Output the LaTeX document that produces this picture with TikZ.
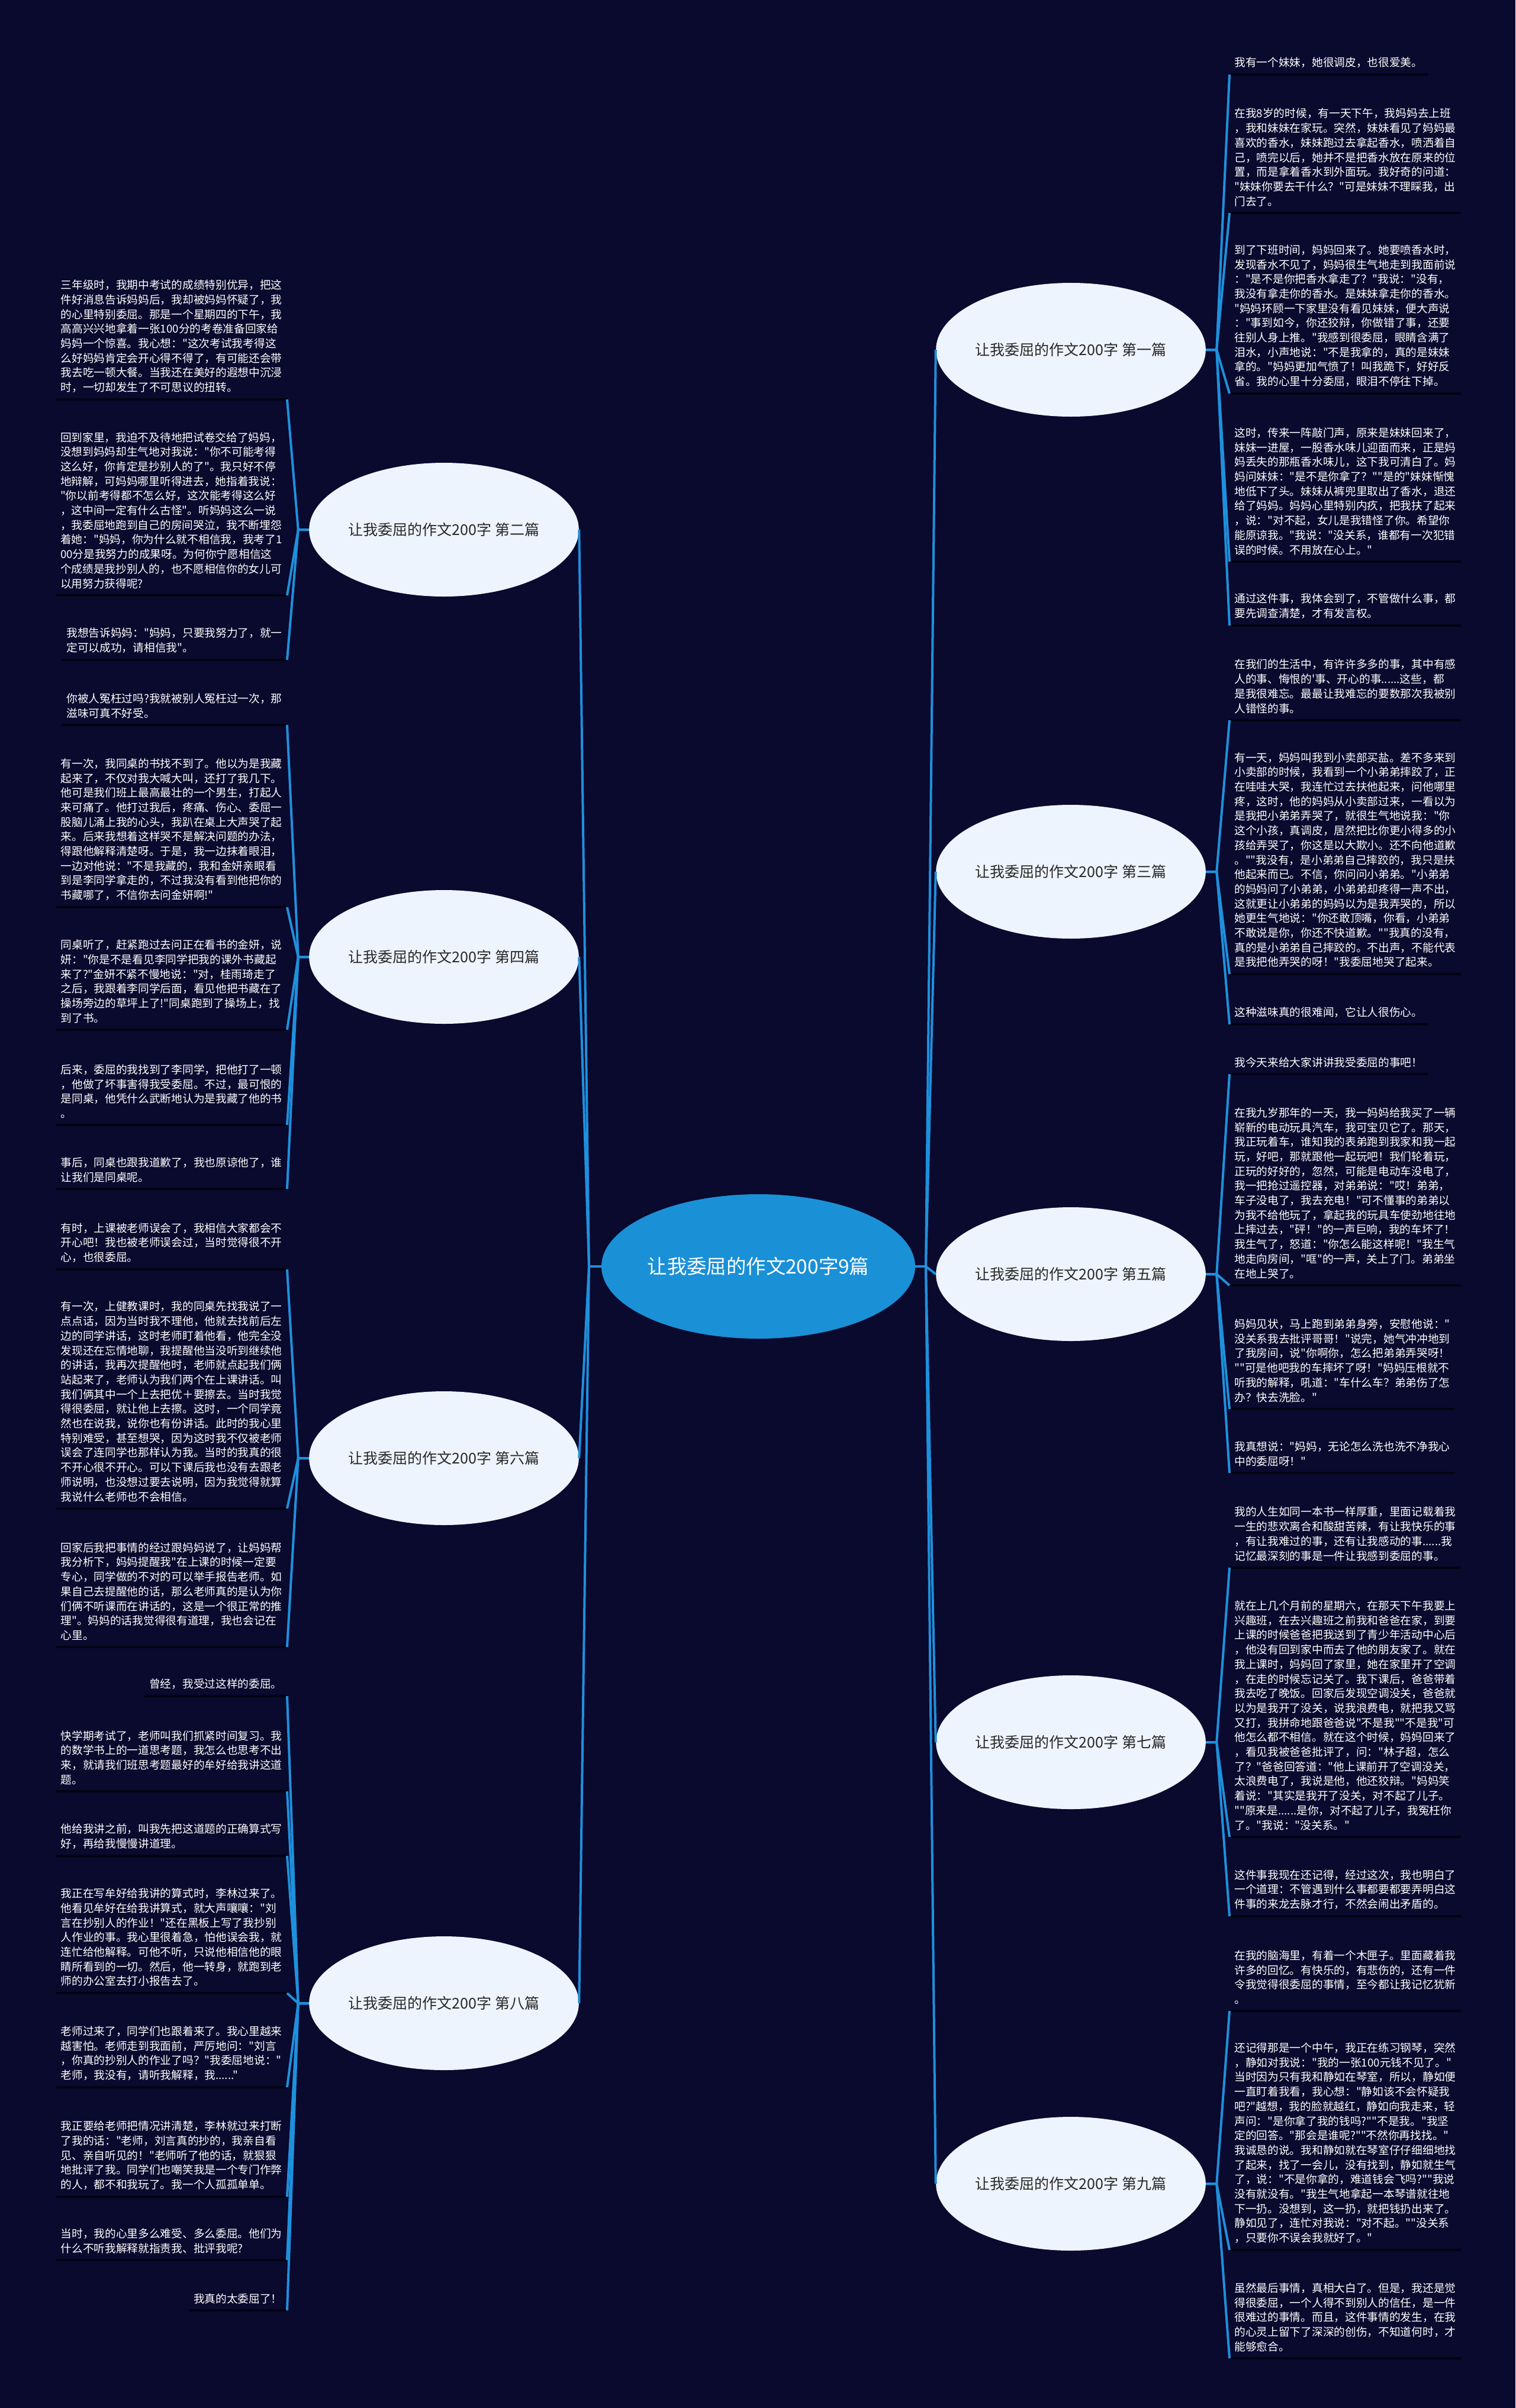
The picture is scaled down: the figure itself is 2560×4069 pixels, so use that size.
\documentclass[tikz,border=0pt]{standalone}
\usepackage{fontspec}
\newfontfamily\zhfont{Noto Sans CJK SC}
\usepackage{tikz}
\usetikzlibrary{positioning, calc, shapes.geometric}
\usepackage{xcolor}
\definecolor{bgnavy}{RGB}{10,9,46}
\definecolor{rootblue}{RGB}{26,144,214}
\definecolor{topicwhite}{RGB}{238,244,253}
\definecolor{topicgray}{RGB}{40,40,40}
\definecolor{linkblue}{RGB}{30,144,220}
\definecolor{ruledark}{RGB}{3,3,18}

\begin{document}
\begin{tikzpicture}[
  x=0.5pt, y=-0.5pt,
  root/.style={
    ellipse, fill=rootblue, minimum width=264pt, minimum height=122pt,
    inner sep=0pt, text=white, font=\zhfont\fontsize{16.7pt}{20pt}\selectfont
  },
  topic/.style={
    ellipse, fill=topicwhite, minimum width=227pt, minimum height=113pt,
    inner sep=0pt, text=topicgray, font=\zhfont\fontsize{12.5pt}{15pt}\selectfont
  },
  leaf/.style={
    align=left, text=white, inner xsep=4pt, inner ysep=5.5pt,
    font=\zhfont\fontsize{9.35pt}{12.35pt}\selectfont
  },
  rleaf/.style={leaf, anchor=south west},
  lleaf/.style={leaf, anchor=south east},
  link/.style={draw=linkblue, line width=2pt},
  rule/.style={draw=ruledark, line width=2pt}
]
  \useasboundingbox (0,0) rectangle (2560,4069);
  \fill[bgnavy] (0,0) rectangle (2560,4069);

  % root and topics
  \node[root]  (root) at (1281,2140) {让我委屈的作文200字9篇};
  \node[topic] (t1) at (1809,591)  {让我委屈的作文200字 第一篇};
  \node[topic] (t2) at (750,895)   {让我委屈的作文200字 第二篇};
  \node[topic] (t3) at (1809,1473) {让我委屈的作文200字 第三篇};
  \node[topic] (t4) at (750,1617)  {让我委屈的作文200字 第四篇};
  \node[topic] (t5) at (1809,2153) {让我委屈的作文200字 第五篇};
  \node[topic] (t6) at (750,2464)  {让我委屈的作文200字 第六篇};
  \node[topic] (t7) at (1809,2944) {让我委屈的作文200字 第七篇};
  \node[topic] (t8) at (750,3385)  {让我委屈的作文200字 第八篇};
  \node[topic] (t9) at (1809,3690) {让我委屈的作文200字 第九篇};

  % right leaves
  \node[rleaf] (r1a) at (2077,126) {我有一个妹妹，她很调皮，也很爱美。};
  \node[rleaf] (r1b) at (2077,360) {在我8岁的时候，有一天下午，我妈妈去上班\\，我和妹妹在家玩。突然，妹妹看见了妈妈最\\喜欢的香水，妹妹跑过去拿起香水，喷洒着自\\己，喷完以后，她并不是把香水放在原来的位\\置，而是拿着香水到外面玩。我好奇的问道：\\"妹妹你要去干什么？"可是妹妹不理睬我，出\\门去了。};
  \node[rleaf] (r1c) at (2077,665) {到了下班时间，妈妈回来了。她要喷香水时，\\发现香水不见了，妈妈很生气地走到我面前说\\："是不是你把香水拿走了？"我说："没有，\\我没有拿走你的香水。是妹妹拿走你的香水。\\"妈妈环顾一下家里没有看见妹妹，便大声说\\："事到如今，你还狡辩，你做错了事，还要\\往别人身上推。"我感到很委屈，眼睛含满了\\泪水，小声地说："不是我拿的，真的是妹妹\\拿的。"妈妈更加气愤了！叫我跪下，好好反\\省。我的心里十分委屈，眼泪不停往下掉。};
  \node[rleaf] (r1d) at (2077,949) {这时，传来一阵敲门声，原来是妹妹回来了，\\妹妹一进屋，一股香水味儿迎面而来，正是妈\\妈丢失的那瓶香水味儿，这下我可清白了。妈\\妈问妹妹："是不是你拿了？""是的"妹妹惭愧\\地低下了头。妹妹从裤兜里取出了香水，退还\\给了妈妈。妈妈心里特别内疚，把我扶了起来\\，说："对不起，女儿是我错怪了你。希望你\\能原谅我。"我说："没关系，谁都有一次犯错\\误的时候。不用放在心上。"};
  \node[rleaf] (r1e) at (2077,1057) {通过这件事，我体会到了，不管做什么事，都\\要先调查清楚，才有发言权。};
  \node[rleaf] (r3a) at (2077,1217) {在我们的生活中，有许许多多的事，其中有感\\人的事、悔恨的'事、开心的事......这些，都\\是我很难忘。最最让我难忘的要数那次我被别\\人错怪的事。};
  \node[rleaf] (r3b) at (2077,1646) {有一天，妈妈叫我到小卖部买盐。差不多来到\\小卖部的时候，我看到一个小弟弟摔跤了，正\\在哇哇大哭，我连忙过去扶他起来，问他哪里\\疼，这时，他的妈妈从小卖部过来，一看以为\\是我把小弟弟弄哭了，就很生气地说我："你\\这个小孩，真调皮，居然把比你更小得多的小\\孩给弄哭了，你这是以大欺小。还不向他道歉\\。""我没有，是小弟弟自己摔跤的，我只是扶\\他起来而已。不信，你问问小弟弟。"小弟弟\\的妈妈问了小弟弟，小弟弟却疼得一声不出，\\这就更让小弟弟的妈妈以为是我弄哭的，所以\\她更生气地说："你还敢顶嘴，你看，小弟弟\\不敢说是你，你还不快道歉。""我真的没有，\\真的是小弟弟自己摔跤的。不出声，不能代表\\是我把他弄哭的呀！"我委屈地哭了起来。};
  \node[rleaf] (r3c) at (2077,1731) {这种滋味真的很难闻，它让人很伤心。};
  \node[rleaf] (r5a) at (2077,1815) {我今天来给大家讲讲我受委屈的事吧！};
  \node[rleaf] (r5b) at (2077,2172) {在我九岁那年的一天，我一妈妈给我买了一辆\\崭新的电动玩具汽车，我可宝贝它了。那天，\\我正玩着车，谁知我的表弟跑到我家和我一起\\玩，好吧，那就跟他一起玩吧！我们轮着玩，\\正玩的好好的，忽然，可能是电动车没电了，\\我一把抢过遥控器，对弟弟说："哎！弟弟，\\车子没电了，我去充电！"可不懂事的弟弟以\\为我不给他玩了，拿起我的玩具车使劲地往地\\上摔过去，"砰！"的一声巨响，我的车坏了！\\我生气了，怒道："你怎么能这样呢！"我生气\\地走向房间，"哐"的一声，关上了门。弟弟坐\\在地上哭了。};
  \node[rleaf] (r5c) at (2077,2381) {妈妈见状，马上跑到弟弟身旁，安慰他说："\\没关系我去批评哥哥！"说完，她气冲冲地到\\了我房间，说"你啊你，怎么把弟弟弄哭呀！\\""可是他吧我的车摔坏了呀！"妈妈压根就不\\听我的解释，吼道："车什么车？弟弟伤了怎\\办？快去洗脸。"};
  \node[rleaf] (r5d) at (2077,2489) {我真想说："妈妈，无论怎么洗也洗不净我心\\中的委屈呀！"};
  \node[rleaf] (r7a) at (2077,2649) {我的人生如同一本书一样厚重，里面记载着我\\一生的悲欢离合和酸甜苦辣，有让我快乐的事\\，有让我难过的事，还有让我感动的事......我\\记忆最深刻的事是一件让我感到委屈的事。};
  \node[rleaf] (r7b) at (2077,3104) {就在上几个月前的星期六，在那天下午我要上\\兴趣班，在去兴趣班之前我和爸爸在家，到要\\上课的时候爸爸把我送到了青少年活动中心后\\，他没有回到家中而去了他的朋友家了。就在\\我上课时，妈妈回了家里，她在家里开了空调\\，在走的时候忘记关了。我下课后，爸爸带着\\我去吃了晚饭。回家后发现空调没关，爸爸就\\以为是我开了没关，说我浪费电，就把我又骂\\又打，我拼命地跟爸爸说"不是我""不是我"可\\他怎么都不相信。就在这个时候，妈妈回来了\\，看见我被爸爸批评了，问："林子超，怎么\\了？"爸爸回答道："他上课前开了空调没关，\\太浪费电了，我说是他，他还狡辩。"妈妈笑\\着说："其实是我开了没关，对不起了儿子。\\""原来是......是你，对不起了儿子，我冤枉你\\了。"我说："没关系。"};
  \node[rleaf] (r7c) at (2077,3238) {这件事我现在还记得，经过这次，我也明白了\\一个道理：不管遇到什么事都要都要弄明白这\\件事的来龙去脉才行，不然会闹出矛盾的。};
  \node[rleaf] (r9a) at (2077,3398) {在我的脑海里，有着一个木匣子。里面藏着我\\许多的回忆。有快乐的，有悲伤的，还有一件\\令我觉得很委屈的事情，至今都让我记忆犹新\\。};
  \node[rleaf] (r9b) at (2077,3802) {还记得那是一个中午，我正在练习钢琴，突然\\，静如对我说："我的一张100元钱不见了。"\\当时因为只有我和静如在琴室，所以，静如便\\一直盯着我看，我心想："静如该不会怀疑我\\吧?"越想，我的脸就越红，静如向我走来，轻\\声问："是你拿了我的钱吗?""不是我。"我坚\\定的回答。"那会是谁呢?""不然你再找找。"\\我诚恳的说。我和静如就在琴室仔仔细细地找\\了起来，找了一会儿，没有找到，静如就生气\\了，说："不是你拿的，难道钱会飞吗?""我说\\没有就没有。"我生气地拿起一本琴谱就往地\\下一扔。没想到，这一扔，就把钱扔出来了。\\静如见了，连忙对我说："对不起。""没关系\\，只要你不误会我就好了。"};
  \node[rleaf] (r9c) at (2077,3985) {虽然最后事情，真相大白了。但是，我还是觉\\得很委屈，一个人得不到别人的信任，是一件\\很难过的事情。而且，这件事情的发生，在我\\的心灵上留下了深深的创伤，不知道何时，才\\能够愈合。};

  % left leaves
  \node[lleaf] (l2a) at (485,675) {三年级时，我期中考试的成绩特别优异，把这\\件好消息告诉妈妈后，我却被妈妈怀疑了，我\\的心里特别委屈。那是一个星期四的下午，我\\高高兴兴地拿着一张100分的考卷准备回家给\\妈妈一个惊喜。我心想："这次考试我考得这\\么好妈妈肯定会开心得不得了，有可能还会带\\我去吃一顿大餐。当我还在美好的遐想中沉浸\\时，一切却发生了不可思议的扭转。};
  \node[lleaf] (l2b) at (485,1006) {回到家里，我迫不及待地把试卷交给了妈妈，\\没想到妈妈却生气地对我说："你不可能考得\\这么好，你肯定是抄别人的了"。我只好不停\\地辩解，可妈妈哪里听得进去，她指着我说：\\"你以前考得都不怎么好，这次能考得这么好\\，这中间一定有什么古怪"。听妈妈这么一说\\，我委屈地跑到自己的房间哭泣，我不断埋怨\\着她："妈妈，你为什么就不相信我，我考了1\\00分是我努力的成果呀。为何你宁愿相信这\\个成绩是我抄别人的，也不愿相信你的女儿可\\以用努力获得呢?};
  \node[lleaf] (l2c) at (485,1115) {我想告诉妈妈："妈妈，只要我努力了，就一\\定可以成功，请相信我"。};
  \node[lleaf] (l4a) at (485,1225) {你被人冤枉过吗?我就被别人冤枉过一次，那\\滋味可真不好受。};
  \node[lleaf] (l4b) at (485,1533) {有一次，我同桌的书找不到了。他以为是我藏\\起来了，不仅对我大喊大叫，还打了我几下。\\他可是我们班上最高最壮的一个男生，打起人\\来可痛了。他打过我后，疼痛、伤心、委屈一\\股脑儿涌上我的心头，我趴在桌上大声哭了起\\来。后来我想着这样哭不是解决问题的办法，\\得跟他解释清楚呀。于是，我一边抹着眼泪，\\一边对他说："不是我藏的，我和金妍亲眼看\\到是李同学拿走的，不过我没有看到他把你的\\书藏哪了，不信你去问金妍啊!"};
  \node[lleaf] (l4c) at (485,1740) {同桌听了，赶紧跑过去问正在看书的金妍，说\\妍："你是不是看见李同学把我的课外书藏起\\来了?"金妍不紧不慢地说："对，桂雨琦走了\\之后，我跟着李同学后面，看见他把书藏在了\\操场旁边的草坪上了!"同桌跑到了操场上，找\\到了书。};
  \node[lleaf] (l4d) at (485,1901) {后来，委屈的我找到了李同学，把他打了一顿\\，他做了坏事害得我受委屈。不过，最可恨的\\是同桌，他凭什么武断地认为是我藏了他的书\\。};
  \node[lleaf] (l4e) at (485,2009) {事后，同桌也跟我道歉了，我也原谅他了，谁\\让我们是同桌呢。};
  \node[lleaf] (l6a) at (485,2145) {有时，上课被老师误会了，我相信大家都会不\\开心吧！我也被老师误会过，当时觉得很不开\\心，也很委屈。};
  \node[lleaf] (l6b) at (485,2549) {有一次，上健教课时，我的同桌先找我说了一\\点点话，因为当时我不理他，他就去找前后左\\边的同学讲话，这时老师盯着他看，他完全没\\发现还在忘情地聊，我提醒他当没听到继续他\\的讲话，我再次提醒他时，老师就点起我们俩\\站起来了，老师认为我们两个在上课讲话。叫\\我们俩其中一个上去把优＋要擦去。当时我觉\\得很委屈，就让他上去擦。这时，一个同学竟\\然也在说我，说你也有份讲话。此时的我心里\\特别难受，甚至想哭，因为这时我不仅被老师\\误会了连同学也那样认为我。当时的我真的很\\不开心很不开心。可以下课后我也没有去跟老\\师说明，也没想过要去说明，因为我觉得就算\\我说什么老师也不会相信。};
  \node[lleaf] (l6c) at (485,2783) {回家后我把事情的经过跟妈妈说了，让妈妈帮\\我分析下，妈妈提醒我"在上课的时候一定要\\专心，同学做的不对的可以举手报告老师。如\\果自己去提醒他的话，那么老师真的是认为你\\们俩不听课而在讲话的，这是一个很正常的推\\理"。妈妈的话我觉得很有道理，我也会记在\\心里。};
  \node[lleaf] (l8a) at (485,2866) {曾经，我受过这样的委屈。};
  \node[lleaf] (l8b) at (485,3027) {快学期考试了，老师叫我们抓紧时间复习。我\\的数学书上的一道思考题，我怎么也思考不出\\来，就请我们班思考题最好的牟好给我讲这道\\题。};
  \node[lleaf] (l8c) at (485,3136) {他给我讲之前，叫我先把这道题的正确算式写\\好，再给我慢慢讲道理。};
  \node[lleaf] (l8d) at (485,3368) {我正在写牟好给我讲的算式时，李林过来了。\\他看见牟好在给我讲算式，就大声嚷嚷："刘\\言在抄别人的作业！"还在黑板上写了我抄别\\人作业的事。我心里很着急，怕他误会我，就\\连忙给他解释。可他不听，只说他相信他的眼\\睛所看到的一切。然后，他一转身，就跑到老\\师的办公室去打小报告去了。};
  \node[lleaf] (l8e) at (485,3527) {老师过来了，同学们也跟着来了。我心里越来\\越害怕。老师走到我面前，严厉地问："刘言\\，你真的抄别人的作业了吗？"我委屈地说："\\老师，我没有，请听我解释，我......"};
  \node[lleaf] (l8f) at (485,3712) {我正要给老师把情况讲清楚，李林就过来打断\\了我的话："老师，刘言真的抄的，我亲自看\\见、亲自听见的！"老师听了他的话，就狠狠\\地批评了我。同学们也嘲笑我是一个专门作弊\\的人，都不和我玩了。我一个人孤孤单单。};
  \node[lleaf] (l8g) at (485,3819) {当时，我的心里多么难受、多么委屈。他们为\\什么不听我解释就指责我、批评我呢?};
  \node[lleaf] (l8h) at (485,3904) {我真的太委屈了！};

  % connectors
  \coordinate (jr) at (1564,2140);
  \coordinate (jl) at (995,2140);
  \draw[link] (root.east) -- (jr);
  \draw[link] (root.west) -- (jl);
  \foreach \t in {t1,t3,t5,t7,t9}
    \draw[link] (jr) -- (\t.west);
  \foreach \t in {t2,t4,t6,t8}
    \draw[link] (jl) -- (\t.east);

  \foreach \t/\l in {t1/r1a,t1/r1b,t1/r1c,t1/r1d,t1/r1e,t3/r3a,t3/r3b,t3/r3c,
                     t5/r5a,t5/r5b,t5/r5c,t5/r5d,t7/r7a,t7/r7b,t7/r7c,
                     t9/r9a,t9/r9b,t9/r9c}
  {
    \draw[rule] (\l.south west) -- (\l.south east);
    \draw[link] (\t.east) -- ++(18,0) -- (\l.south west);
  }
  \foreach \t/\l in {t2/l2a,t2/l2b,t2/l2c,t4/l4a,t4/l4b,t4/l4c,t4/l4d,t4/l4e,
                     t6/l6a,t6/l6b,t6/l6c,t8/l8a,t8/l8b,t8/l8c,t8/l8d,t8/l8e,
                     t8/l8f,t8/l8g,t8/l8h}
  {
    \draw[rule] (\l.south west) -- (\l.south east);
    \draw[link] (\t.west) -- ++(-18,0) -- (\l.south east);
  }
\end{tikzpicture}
\end{document}
